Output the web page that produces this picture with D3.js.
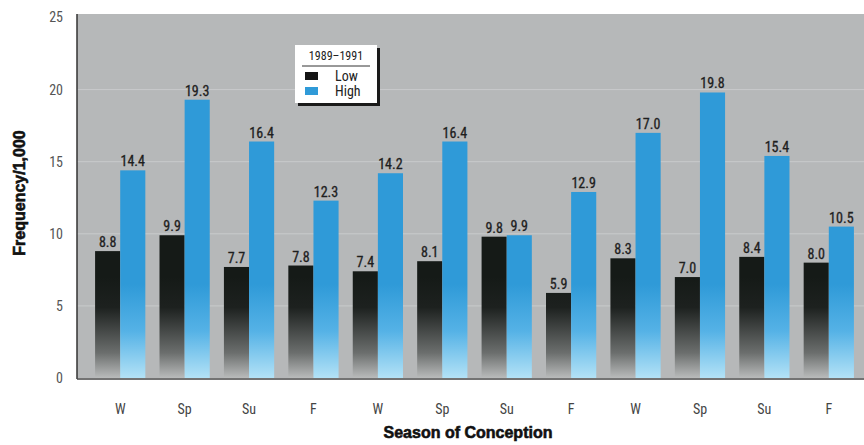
<!DOCTYPE html>
<html>
<head>
<meta charset="utf-8">
<script src="https://cdn.jsdelivr.net/npm/d3@7"></script>
<style>
  body { margin: 0; background: #fff; }
  svg { display: block; }
  text { font-family: "Liberation Sans Narrow", "Roboto Condensed", "Arial Narrow", "Liberation Sans", sans-serif; }
</style>
</head>
<body>
<svg id="main-svg" width="864" height="445"></svg>
<script>
// Chart data
const seasons = ['W', 'Sp', 'Su', 'F', 'W', 'Sp', 'Su', 'F', 'W', 'Sp', 'Su', 'F'];
const lowValues = [8.8, 9.9, 7.7, 7.8, 7.4, 8.1, 9.8, 5.9, 8.3, 7.0, 8.4, 8.0];
const highValues = [14.4, 19.3, 16.4, 12.3, 14.2, 16.4, 9.9, 12.9, 17.0, 19.8, 15.4, 10.5];
const seriesNames = ['Low', 'High'];
const yTicks = [0, 5, 10, 15, 20, 25];

const svg = d3.select('#main-svg');

const plotLeft = 77, plotRight = 864, plotTop = 14, plotBottom = 378;

const x = d3.scaleBand()
    .domain(d3.range(seasons.length))
    .range([88, 861])
    .paddingInner(0.22)
    .paddingOuter(0.11);

const xSub = d3.scaleBand()
    .domain(seriesNames)
    .range([0, x.bandwidth()]);

const y = d3.scaleLinear()
    .domain([0, 25])
    .range([plotBottom, 17.5]);

// gradients for bars, fixed to the baseline
const defs = svg.append('defs');
const gLow = defs.append('linearGradient')
    .attr('id', 'grad-low')
    .attr('gradientUnits', 'userSpaceOnUse')
    .attr('x1', 0).attr('x2', 0)
    .attr('y1', y(7)).attr('y2', y(0));
gLow.append('stop').attr('offset', 0).attr('stop-color', '#151a17');
gLow.append('stop').attr('offset', 0.3).attr('stop-color', '#1d211f');
gLow.append('stop').attr('offset', 0.75).attr('stop-color', '#6b6e6d');
gLow.append('stop').attr('offset', 1).attr('stop-color', '#b9bbbb');

const gHigh = defs.append('linearGradient')
    .attr('id', 'grad-high')
    .attr('gradientUnits', 'userSpaceOnUse')
    .attr('x1', 0).attr('x2', 0)
    .attr('y1', y(6.5)).attr('y2', y(0));
gHigh.append('stop').attr('offset', 0).attr('stop-color', '#2f9ad8');
gHigh.append('stop').attr('offset', 0.5).attr('stop-color', '#55b2e6');
gHigh.append('stop').attr('offset', 1).attr('stop-color', '#b3e2f6');

// plot background
svg.append('rect')
    .attr('x', plotLeft).attr('y', plotTop)
    .attr('width', plotRight - plotLeft).attr('height', plotBottom - plotTop)
    .attr('fill', '#b6b8b9');

// gridlines
svg.append('g')
    .selectAll('line')
    .data(yTicks.filter(d => d > 0 && d < 25))
    .enter()
    .append('line')
    .attr('x1', plotLeft).attr('x2', plotRight)
    .attr('y1', d => y(d)).attr('y2', d => y(d))
    .attr('stroke', '#c9cbcc')
    .attr('stroke-width', 1);

// bars
const groups = svg.append('g')
    .selectAll('g')
    .data(seasons.map((s, i) => ({ i, Low: lowValues[i], High: highValues[i] })))
    .enter()
    .append('g')
    .attr('transform', d => `translate(${x(d.i)},0)`);

groups.selectAll('rect')
    .data(d => seriesNames.map(k => ({ key: k, value: d[k] })))
    .enter()
    .append('rect')
    .attr('x', d => xSub(d.key))
    .attr('y', d => y(d.value))
    .attr('width', xSub.bandwidth())
    .attr('height', d => y(0) - y(d.value))
    .attr('fill', d => d.key === 'Low' ? 'url(#grad-low)' : 'url(#grad-high)');

// value labels
groups.selectAll('text')
    .data(d => seriesNames.map(k => ({ key: k, value: d[k] })))
    .enter()
    .append('text')
    .attr('x', d => xSub(d.key) + xSub.bandwidth() / 2)
    .attr('y', d => y(d.value) - 4)
    .attr('text-anchor', 'middle')
    .attr('font-size', 14)
    .attr('fill', '#1e1e1e')
    .attr('stroke', '#1e1e1e')
    .attr('stroke-width', 0.3)
    .text(d => d.value.toFixed(1));

// axes lines
svg.append('line')
    .attr('x1', plotLeft).attr('x2', plotLeft)
    .attr('y1', plotTop).attr('y2', plotBottom + 1)
    .attr('stroke', '#333').attr('stroke-width', 1.5);
svg.append('line')
    .attr('x1', plotLeft).attr('x2', plotRight)
    .attr('y1', plotBottom + 1).attr('y2', plotBottom + 1)
    .attr('stroke', '#444').attr('stroke-width', 1.5);

// y tick labels
const yAxis = svg.append('g')
    .attr('transform', `translate(${plotLeft - 14},0)`)
    .call(d3.axisLeft(y).tickValues(yTicks).tickSize(0).tickPadding(0));
yAxis.select('.domain').remove();
yAxis.selectAll('text')
    .attr('font-size', 14)
    .attr('fill', '#555')
    .style('font-family', '"Liberation Sans Narrow", "Roboto Condensed", sans-serif');

// x tick labels
const xAxis = svg.append('g')
    .attr('transform', `translate(0,${plotBottom + 26})`)
    .call(d3.axisBottom(x).tickFormat(i => seasons[i]).tickSize(0).tickPadding(0));
xAxis.select('.domain').remove();
xAxis.selectAll('text')
    .attr('font-size', 14)
    .attr('fill', '#444')
    .style('font-family', '"Liberation Sans Narrow", "Roboto Condensed", sans-serif');

// axis titles
svg.append('text')
    .attr('transform', 'translate(25,193) rotate(-90)')
    .attr('text-anchor', 'middle')
    .attr('font-size', 16)
    .attr('font-weight', 'bold')
    .attr('fill', '#111')
    .attr('stroke', '#111')
    .attr('stroke-width', 0.6)
    .style('font-family', '"Liberation Sans", Arial, sans-serif')
    .text('Frequency/1,000');

svg.append('text')
    .attr('x', 468).attr('y', 438)
    .attr('text-anchor', 'middle')
    .attr('font-size', 16)
    .attr('font-weight', 'bold')
    .attr('fill', '#111')
    .attr('stroke', '#111')
    .attr('stroke-width', 0.6)
    .style('font-family', '"Liberation Sans", Arial, sans-serif')
    .text('Season of Conception');

// legend
const legend = svg.append('g').attr('transform', 'translate(295,45)');
legend.append('rect')
    .attr('x', 3).attr('y', 3).attr('width', 82).attr('height', 58)
    .attr('fill', '#1a1a1a');
legend.append('rect')
    .attr('x', 0).attr('y', 0).attr('width', 82).attr('height', 58)
    .attr('fill', '#fff');
legend.append('text')
    .attr('x', 41).attr('y', 15)
    .attr('text-anchor', 'middle')
    .attr('font-size', 12)
    .attr('fill', '#222')
    .text('1989–1991');
legend.append('line')
    .attr('x1', 7).attr('x2', 75).attr('y1', 21).attr('y2', 21)
    .attr('stroke', '#333').attr('stroke-width', 1);
const legendItems = legend.selectAll('.item')
    .data(seriesNames)
    .enter()
    .append('g')
    .attr('class', 'item')
    .attr('transform', (d, i) => `translate(10,${27 + i * 15})`);
legendItems.append('rect')
    .attr('width', 13).attr('height', 8)
    .attr('fill', d => d === 'Low' ? '#141414' : '#2f9ad8');
legendItems.append('text')
    .attr('x', 30).attr('y', 9)
    .attr('font-size', 14)
    .attr('fill', '#222')
    .text(d => d);
</script>
</body>
</html>
